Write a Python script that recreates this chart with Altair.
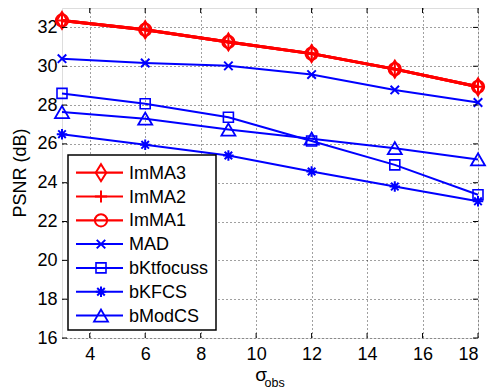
import altair as alt
import pandas as pd

# ---- data ----
sigma_obs = [3, 6, 9, 12, 15, 18]
imma3 = [32.36, 31.88, 31.25, 30.65, 29.85, 28.94]
imma2 = [32.36, 31.88, 31.25, 30.65, 29.85, 28.94]
imma1 = [32.36, 31.88, 31.25, 30.65, 29.85, 28.94]
mad = [30.39, 30.17, 30.02, 29.57, 28.78, 28.13]
bktfocuss = [28.60, 28.07, 27.37, 26.15, 24.92, 23.38]
bkfcs = [26.50, 25.95, 25.40, 24.58, 23.80, 23.04]
bmodcs = [27.64, 27.30, 26.74, 26.27, 25.78, 25.20]
series_names = ["ImMA3", "ImMA2", "ImMA1", "MAD", "bKtfocuss", "bKFCS", "bModCS"]
series_values = [imma3, imma2, imma1, mad, bktfocuss, bkfcs, bmodcs]
x_ticks = [4, 6, 8, 10, 12, 14, 16, 18]
y_ticks = [16, 18, 20, 22, 24, 26, 28, 30, 32]

# ---- layout / style ----
W, H = 416, 330
FONT = "Liberation Sans"
RED, BLUE = "#ff0000", "#0000ff"
DIAMOND = "M0,-1L0.62,0L0,1L-0.62,0Z"
PLUS = "M-1,0H1M0,-1V1"
XMARK = "M-1,-1L1,1M-1,1L1,-1"
STAR = "M-1,0H1M0,-1V1M-0.72,-0.72L0.72,0.72M-0.72,0.72L0.72,-0.72"
styles = {
    "ImMA3": (RED, 3, 2.2, DIAMOND, 289, 2),
    "ImMA2": (RED, 3, 2.2, PLUS, 150, 2),
    "ImMA1": (RED, 3, 2.2, "circle", 150, 2),
    "MAD": (BLUE, 2, 2, XMARK, 72, 2),
    "bKtfocuss": (BLUE, 2, 2, "square", 100, 1.6),
    "bKFCS": (BLUE, 2, 2, STAR, 110, 2),
    "bModCS": (BLUE, 2, 2, "triangle-up", 196, 1.8),
}

xscale = alt.Scale(domain=[3, 18], nice=False, zero=False)
yscale = alt.Scale(domain=[16, 33], nice=False, zero=False)
axis_common = dict(title=None, grid=True, gridDash=[1, 3], gridColor="#000",
                   gridOpacity=0.75, gridWidth=1, domain=False, ticks=False,
                   tickSize=0, labelFontSize=18, labelColor="#000", labelFont=FONT)
X = alt.X("x:Q", scale=xscale, axis=alt.Axis(values=x_ticks, labelPadding=7, **axis_common))
Y = alt.Y("y:Q", scale=yscale, axis=alt.Axis(values=y_ticks, labelPadding=5, **axis_common))

dummy = alt.Data(values=[{"a": 1}])
layers = []

# data series: blue first, red on top
order = [3, 4, 5, 6, 2, 1, 0]
for i in order:
    name = series_names[i]
    df = pd.DataFrame({"x": sigma_obs, "y": series_values[i]})
    color, lw, _, shape, size, sw = styles[name]
    layers.append(alt.Chart(df).mark_line(color=color, strokeWidth=lw).encode(x=X, y=Y))
    layers.append(alt.Chart(df).mark_point(shape=shape, size=size, filled=False, color=color,
                                           strokeWidth=sw, opacity=1).encode(x=X, y=Y))

# inward tick marks on all four sides
xt = pd.DataFrame({"x": x_ticks})
yt = pd.DataFrame({"y": y_ticks})
TL = 5
layers.append(alt.Chart(xt).mark_rule(color="#000", strokeWidth=1).encode(x=X, y=alt.value(H), y2=alt.value(H - TL)))
layers.append(alt.Chart(xt).mark_rule(color="#000", strokeWidth=1).encode(x=X, y=alt.value(0), y2=alt.value(TL)))
layers.append(alt.Chart(yt).mark_rule(color="#000", strokeWidth=1).encode(y=Y, x=alt.value(0), x2=alt.value(TL)))
layers.append(alt.Chart(yt).mark_rule(color="#000", strokeWidth=1).encode(y=Y, x=alt.value(W), x2=alt.value(W - TL)))

# legend
layers.append(alt.Chart(dummy).mark_rect(fill="#fff", stroke="#000", strokeWidth=1.5).encode(
    x=alt.value(6), x2=alt.value(154), y=alt.value(147), y2=alt.value(322)))
for i, name in enumerate(series_names):
    color, _, llw, shape, size, sw = styles[name]
    yy = 164.7 + 23.8 * i
    layers.append(alt.Chart(dummy).mark_rule(color=color, strokeWidth=llw).encode(
        x=alt.value(14), x2=alt.value(61), y=alt.value(yy)))
    layers.append(alt.Chart(dummy).mark_point(shape=shape, size=size, filled=False, color=color,
                                              strokeWidth=sw, opacity=1).encode(
        x=alt.value(39), y=alt.value(yy)))
    layers.append(alt.Chart(dummy).mark_text(text=name, font=FONT, fontSize=18, align="left",
                                             baseline="middle", color="#000").encode(
        x=alt.value(67), y=alt.value(yy + 1)))

# axis titles
layers.append(alt.Chart(dummy).mark_text(text="PSNR (dB)", font=FONT, fontSize=18, angle=270,
                                         align="center", baseline="middle", color="#000").encode(
    x=alt.value(-41), y=alt.value(H / 2)))
layers.append(alt.Chart(dummy).mark_text(text="σ", font=FONT, fontSize=19, align="right",
                                         baseline="alphabetic", color="#000").encode(
    x=alt.value(205), y=alt.value(372.5)))
layers.append(alt.Chart(dummy).mark_text(text="obs", font=FONT, fontSize=12.5, align="left",
                                         baseline="alphabetic", color="#000").encode(
    x=alt.value(202.5), y=alt.value(378.5)))

chart = alt.layer(*layers).properties(
    width=W, height=H,
    padding={"left": 62, "top": 8, "right": 14, "bottom": 52},
    autosize=alt.AutoSizeParams(type="none"),
).configure_view(stroke="#000", strokeWidth=1).configure(font=FONT)

chart.save("out.html", embed_options={"renderer": "svg", "actions": False})
